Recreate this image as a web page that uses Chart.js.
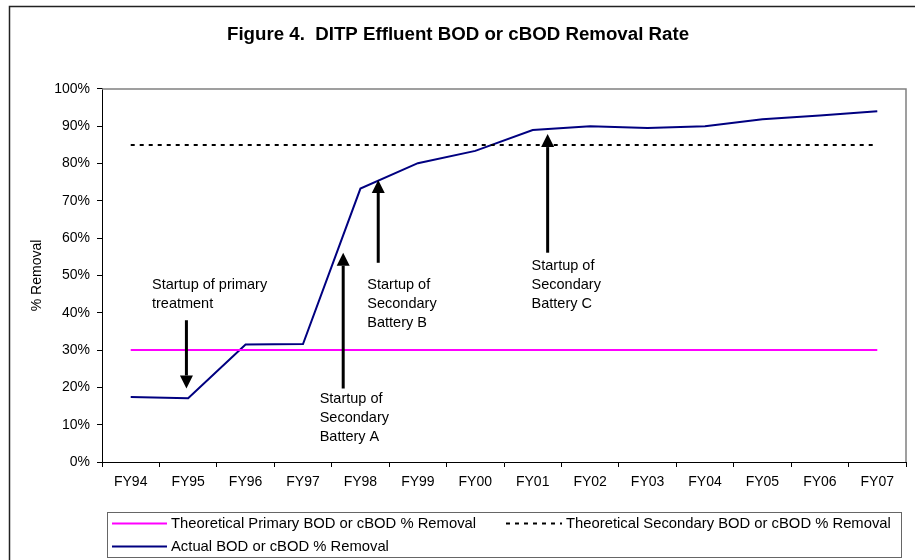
<!DOCTYPE html>
<html>
<head>
<meta charset="utf-8">
<title>Figure 4. DITP Effluent BOD or cBOD Removal Rate</title>
<script src="https://cdn.jsdelivr.net/npm/chart.js@4.4.1/dist/chart.umd.min.js"></script>
<style>
  html, body { margin: 0; padding: 0; background: #fff; }
  #wrap { width: 915px; height: 560px; }
</style>
</head>
<body>
<div id="wrap"><canvas id="bodChart" width="915" height="560"></canvas></div>
<script>
// fiscal years on the x axis
const years = ["FY94", "FY95", "FY96", "FY97", "FY98", "FY99", "FY00",
               "FY01", "FY02", "FY03", "FY04", "FY05", "FY06", "FY07"];

// % removal values
const actualRemoval = [17.4, 17.1, 31.5, 31.6, 73.3, 80.1, 83.4,
                       89.0, 90.0, 89.5, 90.0, 91.9, 92.9, 94.0];
const primaryTheory = [30, 30, 30, 30, 30, 30, 30, 30, 30, 30, 30, 30, 30, 30];
const secondaryTheory = [85, 85, 85, 85, 85, 85, 85, 85, 85, 85, 85, 85, 85, 85];

const seriesNames = [
    "Theoretical Primary BOD or cBOD % Removal",
    "Theoretical Secondary BOD or cBOD % Removal",
    "Actual BOD or cBOD % Removal"
];

// y axis range (percent)
const yMin = 0;
const yMax = 100;
const yStep = 10;

// callouts, in data units: x = category index, y = % value
const notes = [
    { lines: ["Startup of primary", "treatment"], textX: 0.37, textY: 46.5, arrowX: 0.97, from: 38.0, to: 19.7 },
    { lines: ["Startup of", "Secondary", "Battery A"], textX: 3.29, textY: 15.8, arrowX: 3.70, from: 19.7, to: 56.1 },
    { lines: ["Startup of", "Secondary", "Battery B"], textX: 4.12, textY: 46.5, arrowX: 4.31, from: 53.4, to: 75.6 },
    { lines: ["Startup of", "Secondary", "Battery C"], textX: 6.98, textY: 51.6, arrowX: 7.26, from: 56.1, to: 87.9 }
];

const FONT = "'Liberation Sans', Arial, sans-serif";

function drawArrow(ctx, x, yFrom, yTip) {
    const dir = yTip < yFrom ? -1 : 1;
    const headLen = 13, headHalf = 6.5;
    ctx.lineWidth = 3;
    ctx.beginPath();
    ctx.moveTo(x, yFrom);
    ctx.lineTo(x, yTip - dir * headLen);
    ctx.stroke();
    ctx.beginPath();
    ctx.moveTo(x, yTip);
    ctx.lineTo(x - headHalf, yTip - dir * headLen);
    ctx.lineTo(x + headHalf, yTip - dir * headLen);
    ctx.closePath();
    ctx.fill();
}

const decorPlugin = {
    id: "figureDecor",
    beforeDraw(chart) {
        const ctx = chart.ctx;
        ctx.save();
        ctx.fillStyle = "#fff";
        ctx.fillRect(0, 0, chart.width, chart.height);
        // outer figure frame (left and top edges are visible)
        ctx.strokeStyle = "#222";
        ctx.lineWidth = 1.5;
        ctx.beginPath();
        ctx.moveTo(9.5, chart.height);
        ctx.lineTo(9.5, 6.5);
        ctx.lineTo(chart.width, 6.5);
        ctx.stroke();
        ctx.restore();
    },
    beforeDatasetsDraw(chart) {
        const ctx = chart.ctx;
        const a = chart.chartArea;
        ctx.save();
        ctx.strokeStyle = "#808080";
        ctx.lineWidth = 1.5;
        ctx.beginPath();
        ctx.moveTo(a.left, a.top);
        ctx.lineTo(a.right, a.top);
        ctx.lineTo(a.right, a.bottom);
        ctx.stroke();
        ctx.restore();
    },
    afterDraw(chart) {
        const ctx = chart.ctx;
        const xs = chart.scales.x;
        const ys = chart.scales.y;
        ctx.save();

        // callout arrows and texts
        ctx.fillStyle = "#000";
        ctx.strokeStyle = "#000";
        ctx.font = "14.5px " + FONT;
        ctx.textBaseline = "alphabetic";
        ctx.textAlign = "left";
        notes.forEach(function (n) {
            const ax = xs.getPixelForValue(n.arrowX);
            drawArrow(ctx, ax, ys.getPixelForValue(n.from), ys.getPixelForValue(n.to));
            const tx = xs.getPixelForValue(n.textX);
            let ty = ys.getPixelForValue(n.textY);
            n.lines.forEach(function (line) {
                ctx.fillText(line, tx, ty);
                ty += 19;
            });
        });

        // legend box
        ctx.strokeStyle = "#666";
        ctx.lineWidth = 1;
        ctx.strokeRect(107.5, 512.5, 794, 45);
        ctx.font = "14.8px " + FONT;
        ctx.textBaseline = "middle";
        const ds = chart.data.datasets;
        const items = [
            { d: ds[0], x: 112, y: 523.5, len: 55 },
            { d: ds[1], x: 506, y: 523.5, len: 56 },
            { d: ds[2], x: 112, y: 546.5, len: 55 }
        ];
        items.forEach(function (it) {
            ctx.strokeStyle = it.d.borderColor;
            ctx.lineWidth = 2;
            ctx.setLineDash(it.d.borderDash || []);
            ctx.beginPath();
            ctx.moveTo(it.x, it.y);
            ctx.lineTo(it.x + it.len, it.y);
            ctx.stroke();
            ctx.setLineDash([]);
            ctx.fillStyle = "#000";
            ctx.fillText(it.d.label, it.x + it.len + 4, it.y);
        });
        ctx.restore();
    }
};

const ctx = document.getElementById("bodChart").getContext("2d");

const chart = new Chart(ctx, {
    type: "line",
    data: {
        labels: years,
        datasets: [
            {
                label: seriesNames[0],
                data: primaryTheory,
                borderColor: "#ff00ff",
                borderWidth: 2,
                pointRadius: 0,
                tension: 0
            },
            {
                label: seriesNames[1],
                data: secondaryTheory,
                borderColor: "#000000",
                borderWidth: 2,
                borderDash: [4, 5],
                pointRadius: 0,
                tension: 0
            },
            {
                label: seriesNames[2],
                data: actualRemoval,
                borderColor: "#000080",
                borderWidth: 2,
                pointRadius: 0,
                tension: 0
            }
        ]
    },
    options: {
        responsive: false,
        animation: false,
        layout: {
            padding: { left: 10, right: 9, top: 0, bottom: 58 }
        },
        plugins: {
            legend: { display: false },
            tooltip: { enabled: false },
            title: {
                display: true,
                text: "Figure 4.  DITP Effluent BOD or cBOD Removal Rate",
                color: "#000",
                font: { family: FONT, size: 18.7, weight: "bold" },
                padding: { top: 24, bottom: 42.5 }
            }
        },
        scales: {
            x: {
                type: "category",
                offset: true,
                grid: {
                    offset: true,
                    drawOnChartArea: false,
                    tickLength: 5,
                    color: "#000"
                },
                border: { color: "#000", width: 1 },
                ticks: {
                    color: "#000",
                    font: { family: FONT, size: 14 },
                    padding: 7,
                    maxRotation: 0,
                    autoSkip: false
                },
                afterFit: function (scale) { scale.height = 40; }
            },
            y: {
                min: yMin,
                max: yMax,
                grid: {
                    drawOnChartArea: false,
                    tickLength: 5,
                    color: "#000"
                },
                border: { color: "#000", width: 1 },
                ticks: {
                    stepSize: yStep,
                    color: "#000",
                    font: { family: FONT, size: 14 },
                    padding: 7,
                    callback: function (v) { return v + "%"; }
                },
                title: {
                    display: true,
                    text: "% Removal",
                    color: "#000",
                    font: { family: FONT, size: 14 },
                    padding: { top: 19, bottom: 0 }
                },
                afterFit: function (scale) { scale.width = 92; }
            }
        }
    },
    plugins: [decorPlugin]
});
</script>
</body>
</html>
